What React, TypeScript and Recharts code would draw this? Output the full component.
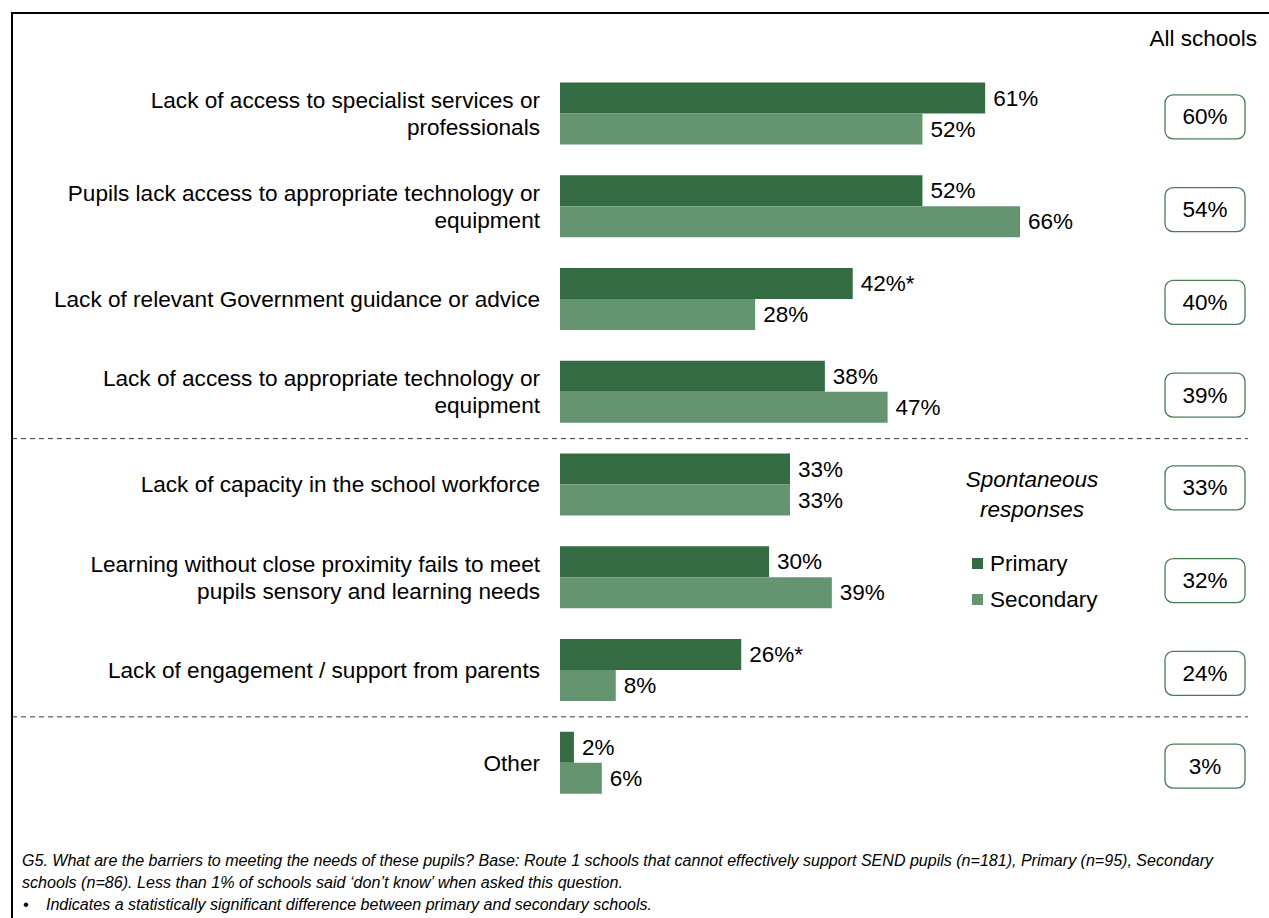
import React from "react";
import { BarChart, Bar, XAxis, YAxis, LabelList } from "recharts";

const categoryLines: string[][] = [
  ["Lack of access to specialist services or", "professionals"],
  ["Pupils lack access to appropriate technology or", "equipment"],
  ["Lack of relevant Government guidance or advice"],
  ["Lack of access to appropriate technology or", "equipment"],
  ["Lack of capacity in the school workforce"],
  ["Learning without close proximity fails to meet", "pupils sensory and learning needs"],
  ["Lack of engagement / support from parents"],
  ["Other"],
];
const primaryValues = [61, 52, 42, 38, 33, 30, 26, 2];
const secondaryValues = [52, 66, 28, 47, 33, 39, 8, 6];
const allSchoolsValues = [60, 54, 40, 39, 33, 32, 24, 3];
const primarySignificant = [false, false, true, false, false, false, true, false];
const separatorAfter = [false, false, false, true, false, false, true, false];

const footnoteLines = [
  "G5. What are the barriers to meeting the needs of these pupils? Base: Route 1 schools that cannot effectively support SEND pupils (n=181),  Primary (n=95), Secondary",
  "schools (n=86). Less than 1% of schools said \u2018don\u2019t know\u2019 when asked this question.",
];
const footnoteBullet = "Indicates a statistically significant difference between primary and secondary schools.";

const PRIMARY = "#346B43";
const SECONDARY = "#659470";
const BOX = "#4A7D57";
const FONT = "'Liberation Sans', Arial, sans-serif";

const data = categoryLines.map((lines, i) => ({
  category: lines.join(" "),
  primary: primaryValues[i],
  secondary: secondaryValues[i],
  primaryLabel: `${primaryValues[i]}%${primarySignificant[i] ? "*" : ""}`,
  secondaryLabel: `${secondaryValues[i]}%`,
}));

const HALF_BAND = 46.5;

const LeftTick = (props: any) => {
  const { x, y, payload } = props;
  const i = payload.index;
  const lines = categoryLines[i] || [];
  const n = lines.length;
  const cx = 1205;
  const cy = y + 3;
  return (
    <g>
      {lines.map((l, k) => (
        <text
          key={k}
          x={x}
          y={y + (k - (n - 1) / 2) * 27}
          textAnchor="end"
          dominantBaseline="central"
          fontFamily={FONT}
          fontSize={22.6}
          fill="#000"
        >
          {l}
        </text>
      ))}
      {separatorAfter[i] && (
        <line
          x1={12}
          x2={1248}
          y1={y + HALF_BAND}
          y2={y + HALF_BAND}
          stroke="#333"
          strokeWidth={1}
          strokeDasharray="5 4"
        />
      )}
      <rect x={cx - 40} y={cy - 22} width={80} height={44} rx={8} ry={8} fill="#fff" stroke={BOX} strokeWidth={1.3} />
      <text x={cx} y={cy} textAnchor="middle" dominantBaseline="central" fontFamily={FONT} fontSize={22.5} fill="#000">
        {`${allSchoolsValues[i]}%`}
      </text>
    </g>
  );
};

const makeValueLabel = (key: "primaryLabel" | "secondaryLabel") => (props: any) => {
  const { x, y, width, height, index } = props;
  const text = data[index][key];
  return (
    <text
      x={x + width + 8}
      y={y + height / 2}
      dominantBaseline="central"
      fontFamily={FONT}
      fontSize={22.5}
      fill="#000"
    >
      {text}
    </text>
  );
};

const legendItems = [
  { name: "Primary", color: PRIMARY },
  { name: "Secondary", color: SECONDARY },
];

export default function App() {
  return (
    <div
      style={{
        position: "absolute",
        left: 0,
        top: 0,
        width: 1269,
        height: 918,
        overflow: "hidden",
        background: "#fff",
      }}
    >
      <div
        style={{
          position: "absolute",
          left: 11,
          top: 12,
          width: 1400,
          height: 1100,
          border: "2px solid #000",
          boxSizing: "border-box",
        }}
      />
      <div style={{ position: "absolute", left: 0, top: 0 }}>
        <BarChart
          width={1269}
          height={918}
          data={data}
          layout="vertical"
          margin={{ top: 67.5, right: 12, bottom: 108.5, left: 0 }}
          barGap={0}
          barCategoryGap={15.5}
        >
          <XAxis type="number" domain={[0, 100]} hide />
          <YAxis
            type="category"
            dataKey="category"
            width={560}
            axisLine={false}
            tickLine={false}
            tickSize={0}
            tickMargin={20}
            interval={0}
            tick={<LeftTick />}
          />
          <Bar dataKey="primary" name="Primary" fill={PRIMARY} barSize={31} isAnimationActive={false}>
            <LabelList dataKey="primaryLabel" content={makeValueLabel("primaryLabel")} />
          </Bar>
          <Bar dataKey="secondary" name="Secondary" fill={SECONDARY} barSize={31} isAnimationActive={false}>
            <LabelList dataKey="secondaryLabel" content={makeValueLabel("secondaryLabel")} />
          </Bar>
        </BarChart>
      </div>
      <svg
        width={1269}
        height={918}
        style={{ position: "absolute", left: 0, top: 0, pointerEvents: "none" }}
      >
        <g fontFamily={FONT} fontSize={22.5} fill="#000">
          <text x={1257} y={38} textAnchor="end" dominantBaseline="central">All schools</text>
          <g fontStyle="italic">
            <text x={1032} y={479} textAnchor="middle" dominantBaseline="central">Spontaneous</text>
            <text x={1032} y={509} textAnchor="middle" dominantBaseline="central">responses</text>
          </g>
          {legendItems.map((it, k) => (
            <g key={it.name}>
              <rect x={972} y={558 + k * 36} width={11} height={11} fill={it.color} />
              <text x={990} y={563.5 + k * 36} dominantBaseline="central">{it.name}</text>
            </g>
          ))}
        </g>
        <g fontFamily={FONT} fontStyle="italic" fontSize={16} fill="#000">
          <text x={22} y={866} textLength={1191} lengthAdjust="spacingAndGlyphs">{footnoteLines[0]}</text>
          <text x={22} y={888} textLength={601} lengthAdjust="spacingAndGlyphs">{footnoteLines[1]}</text>
          <text x={23} y={910}>{"\u2022"}</text>
          <text x={46} y={910} textLength={606} lengthAdjust="spacingAndGlyphs">{footnoteBullet}</text>
        </g>
      </svg>
    </div>
  );
}
